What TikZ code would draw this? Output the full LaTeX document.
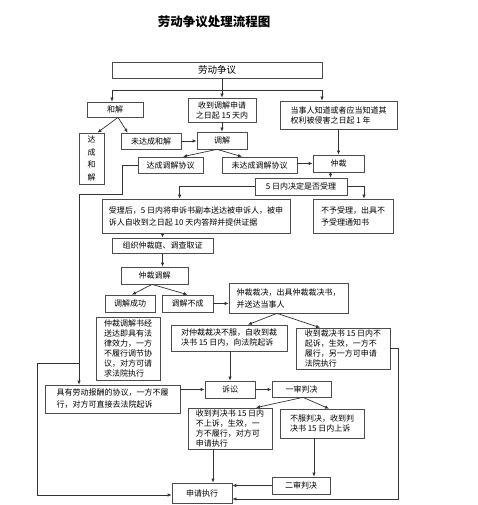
\documentclass[tikz,border=0pt]{standalone}
\usepackage{fontspec}
\setmainfont{Noto Sans CJK SC}
\usetikzlibrary{arrows.meta,calc}
\begin{document}
\begin{tikzpicture}[x=1pt,y=-1pt,
  box/.style={draw=black!70,line width=0.7pt,inner sep=1pt,font=\fontsize{8}{10}\selectfont,align=left},
  sz/.style 2 args={minimum width=#1pt,minimum height=#2pt},
  arr/.style={-{Latex[length=4pt,width=3.5pt]},draw=black!80,line width=0.7pt},
  ln/.style={draw=black!80,line width=0.7pt}]
\useasboundingbox[fill=white] (0,0) rectangle (477,505);

\node[font=\fontsize{12.5}{14}\selectfont\bfseries] (title) at (214,22) {劳动争议处理流程图};

\node[box,sz={210}{16},font=\fontsize{9.5}{11}\selectfont] (ld) at (217,70) {劳动争议};
\node[box,sz={56}{15}] (hj) at (115,109.5) {和解};
\node[box,sz={68}{24},align=center] (sq) at (222,110) {收到调解申请\\之日起 15 天内};
\node[box,sz={117}{28}] (dsr) at (338.5,115) {当事人知道或者应当知道其\\权利被侵害之日起 1 年};
\node[box,sz={25}{51},font=\fontsize{8}{12.5}\selectfont,align=center] (dchj) at (91.5,158.5) {达\\成\\和\\解};
\node[box,sz={60}{16}] (wdchj) at (151,141) {未达成和解};
\node[box,sz={50}{17}] (tj) at (222,140.5) {调解};
\node[box,sz={65}{16}] (dctjxy) at (170.5,165) {达成调解协议};
\node[box,sz={75}{16}] (wdctjxy) at (259.5,165) {未达成调解协议};
\node[box,sz={51}{17}] (zc) at (338.5,163.5) {仲裁};
\node[box,sz={92}{17}] (wr) at (301,186.5) {5 日内决定是否受理};
\node[box,sz={188}{34},font=\fontsize{8}{12}\selectfont] (slh) at (196,216) {受理后，5 日内将申诉书副本送达被申诉人，被申\\诉人自收到之日起 10 天内答辩并提供证据};
\node[box,sz={80}{34},font=\fontsize{8}{12}\selectfont] (byl) at (353,216) {不予受理，出具不\\予受理通知书};
\node[box,sz={101}{15}] (zz) at (162.5,245.5) {组织仲裁庭、调查取证};
\node[box,sz={67}{17}] (zctj) at (154.5,275.5) {仲裁调解};
\node[box,sz={50}{17}] (tjcg) at (130,303.5) {调解成功};
\node[box,sz={51}{17}] (tjbc) at (187.5,303.5) {调解不成};
\node[box,sz={119}{30},font=\fontsize{8}{12}\selectfont] (zccj) at (288.5,298) {仲裁裁决，出具仲裁裁决书，\\并送达当事人};
\node[box,sz={64}{63}] (tjs) at (128,348.5) {仲裁调解书经\\送达即具有法\\律效力，一方\\不履行调节协\\议，对方可请\\求法院执行};
\node[box,sz={116}{26}] (dbf) at (229,338) {对仲裁裁决不服，自收到裁\\决书 15 日内，向法院起诉};
\node[box,sz={94}{41}] (sdcj) at (343,348.5) {收到裁决书 15 日内不\\起诉，生效，一方不\\履行，另一方可申请\\法院执行};
\node[box,sz={135}{28},font=\fontsize{8}{12}\selectfont] (jy) at (112.5,399) {具有劳动报酬的协议，一方不履\\行，对方可直接去法院起诉};
\node[box,sz={50}{17}] (ss) at (230,389.5) {诉讼};
\node[box,sz={59}{16}] (ysp) at (301.5,389) {一审判决};
\node[box,sz={84}{41}] (spb) at (230,428.5) {收到判决书 15 日内\\不上诉，生效，一\\方不履行，对方可\\申请执行};
\node[box,sz={84}{29}] (bfpj) at (322,423.5) {不服判决，收到判\\决书 15 日内上诉};
\node[box,sz={58}{17}] (esp) at (301,485.5) {二审判决};
\node[box,sz={60}{20}] (sqzx) at (202,493) {申请执行};

% top branching
\draw[arr] (ld.south -| sq.north) -- (sq.north);
\coordinate (bl) at (112,90);
\coordinate (bri) at (322,90);
\draw[ln] (bl) -- (bri);
\draw[arr] (bl) -- (bl |- hj.north);
\draw[arr] (bri) -- (bri |- dsr.north);

% 和解 fork
\coordinate (hjf) at ($(hj.south)+(3,0)$);
\draw[arr] (hjf) -- ($(dchj.north)+(6,0)$);
\draw[arr] (hjf) -- ($(wdchj.north west)+(7,0)$);
\draw[arr] (wdchj.east) -- (wdchj.east -| tj.west);
\draw[arr] (sq.south) -- (tj.north);

% 调解 fork
\coordinate (tjf) at ($(tj.south)+(-5,0)$);
\draw[arr] (tjf) -- ($(dctjxy.north)+(12.5,0)$);
\draw[arr] (tjf) -- ($(wdctjxy.north)+(-17.5,0)$);
\draw[arr] (zc.west -| wdctjxy.east) -- (zc.west);
\draw[arr] (dsr.south) -- (zc.north);
\coordinate (zcs) at ($(zc.south)+(-8,0)$);
\draw[arr] (zcs) -- (zcs |- wr.north);
\draw[arr] (wr.east) -| ($(byl.north)+(11,0)$);
\draw[arr] (wr.west) -| ($(slh.north west)+(78,0)$);
\draw[arr] (zz.north |- slh.south) -- (zz.north);
\draw[arr] (zz.south) -- (zz.south |- zctj.north);

% 仲裁调解 fork
\coordinate (zcf) at ($(zctj.south)+(-2.5,0)$);
\draw[arr] (zcf) -- ($(tjcg.north)+(2,0)$);
\draw[arr] (zcf) -- (tjbc.north);
\draw[arr] (tjbc.east) -- (tjbc.east -| zccj.west);

% 仲裁裁决 fork
\coordinate (zcjf) at ($(zccj.south)+(-11.5,0)$);
\draw[arr] (zcjf) -- ($(dbf.north)+(19,0)$);
\draw[arr] (zcjf) -- ($(sdcj.north)+(-23,0)$);
\draw[arr] (ss.north |- dbf.south) -- (ss.north);
\draw[arr] (ss.west -| jy.east) -- (ss.west);
\draw[arr] (ss.east) -- (ss.east -| ysp.west);

% 一审判决 fork
\coordinate (yspf) at ($(ysp.south)+(1.5,0)$);
\draw[arr] (yspf) -- ($(spb.north)+(26,0)$);
\draw[arr] (yspf) -- ($(bfpj.north)+(7,0)$);
\coordinate (spbs) at ($(spb.south)+(-17,0)$);
\draw[arr] (spbs) -- (spbs |- sqzx.north);
\coordinate (bfs) at ($(bfpj.south)+(-8,0)$);
\draw[arr] (bfs) -- (bfs |- esp.north);
\draw[arr] (esp.west) -- (esp.west -| sqzx.east);

% right loop
\coordinate (rb) at (398,499);
\draw[arr] (sdcj.east) -| (rb) -- (rb -| sqzx.east);

% left loop
\coordinate (l1) at (122,194);
\coordinate (l2) at (79,194);
\coordinate (l3) at (79,363);
\coordinate (l4) at (37,363);
\coordinate (l5) at (37,495);
\draw[arr] (dctjxy.west) -| (l1) -- (l2) -- (l2 |- jy.north);
\draw[arr] (l3) -- (l4) -- (l5) -- (l5 -| sqzx.west);
\end{tikzpicture}
\end{document}
